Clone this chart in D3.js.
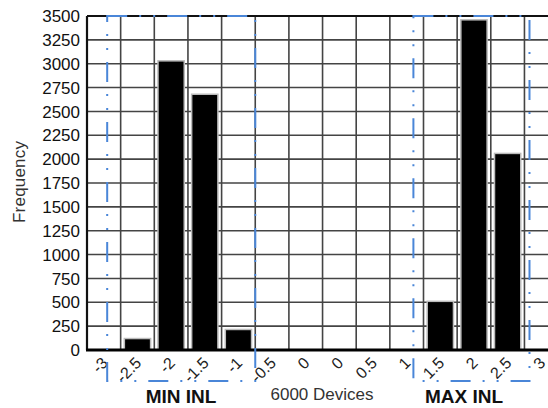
<!DOCTYPE html>
<html>
<head>
<meta charset="utf-8">
<script src="https://cdn.jsdelivr.net/npm/d3@7"></script>
<style>
  body { margin: 0; background: #fff; }
  svg { display: block; font-family: "Liberation Sans", Arial, sans-serif; }
</style>
</head>
<body>
<svg width="548" height="408"></svg>
<script>
// histogram bins (x labels) and counts
const bins = ["-3", "-2.5", "-2", "-1.5", "-1", "-0.5", "0", "0", "0.5", "1", "1.5", "2", "2.5", "3"];
const counts = [0, 120, 3030, 2680, 215, 0, 0, 0, 0, 0, 510, 3460, 2060, 0];
const yTicks = d3.range(0, 3501, 250);
// dash-dot boxes, in bin units (start, end)
const boxes = [
    {name: "MIN INL", from: 0.6, to: 5},
    {name: "MAX INL", from: 9.7, to: 13.15}
];

const svg = d3.select("svg");
const L = 87, T = 16, B = 350, step = 33.65;
const R = L + bins.length * step;

const x = d3.scaleBand()
    .domain(d3.range(bins.length))
    .range([L, R])
    .padding(0);
const xu = d3.scaleLinear().domain([0, bins.length]).range([L, R]);
const y = d3.scaleLinear().domain([0, 3500]).range([B, T]);

// grid
svg.append("g")
    .selectAll("line.h")
    .data(yTicks)
    .join("line")
    .attr("x1", L).attr("x2", R)
    .attr("y1", d => y(d)).attr("y2", d => y(d))
    .attr("stroke", "#444").attr("stroke-width", 1.6);

svg.append("g")
    .selectAll("line.v")
    .data(d3.range(1, bins.length))
    .join("line")
    .attr("x1", d => xu(d)).attr("x2", d => xu(d))
    .attr("y1", T).attr("y2", B)
    .attr("stroke", "#444").attr("stroke-width", 1.6);

// bars
const bw = x.bandwidth() * 0.78;
svg.append("g")
    .selectAll("rect")
    .data(counts)
    .join("rect")
    .attr("x", (d, i) => x(i) + (x.bandwidth() - bw) / 2)
    .attr("y", d => y(d))
    .attr("width", bw)
    .attr("height", d => B - y(d))
    .attr("fill", d => d > 0 ? "#000" : "none")
    .attr("stroke", d => d > 0 ? "#bbb" : "none")
    .attr("stroke-width", 1.5);

// frame
svg.append("line").attr("x1", L).attr("x2", R).attr("y1", T).attr("y2", T)
    .attr("stroke", "#111").attr("stroke-width", 2.2);
svg.append("line").attr("x1", L).attr("x2", L).attr("y1", T).attr("y2", B)
    .attr("stroke", "#111").attr("stroke-width", 2.2);
svg.append("line").attr("x1", L - 1).attr("x2", R).attr("y1", B).attr("y2", B)
    .attr("stroke", "#000").attr("stroke-width", 3);

// y axis labels
svg.append("g")
    .selectAll("text")
    .data(yTicks)
    .join("text")
    .attr("x", 80)
    .attr("y", d => y(d))
    .attr("dy", "0.36em")
    .attr("text-anchor", "end")
    .attr("font-size", 17)
    .attr("fill", "#111")
    .text(d => d);

svg.append("text")
    .attr("transform", "translate(25,182) rotate(-90)")
    .attr("text-anchor", "middle")
    .attr("font-size", 17)
    .attr("textLength", 82)
    .attr("fill", "#333")
    .text("Frequency");

// x tick labels (rotated)
svg.append("g")
    .selectAll("text")
    .data(bins)
    .join("text")
    .attr("transform", (d, i) => `translate(${x(i) + x.bandwidth() / 2 - 3},${356}) rotate(-45)`)
    .attr("text-anchor", "end")
    .attr("dy", "0.7em")
    .attr("font-size", 16)
    .attr("fill", "#222")
    .text(d => d);

// dash-dot boxes
svg.append("g")
    .selectAll("rect")
    .data(boxes)
    .join("rect")
    .attr("x", d => xu(d.from))
    .attr("y", T)
    .attr("width", d => xu(d.to) - xu(d.from))
    .attr("height", 381 - T)
    .attr("fill", "none")
    .attr("stroke", "#4a86d8")
    .attr("stroke-width", 2)
    .attr("stroke-dasharray", "20,12,2,12,2,12");

// box captions
svg.append("g")
    .selectAll("text")
    .data(boxes)
    .join("text")
    .attr("x", d => d.name === "MIN INL" ? 181 : 464)
    .attr("y", 403)
    .attr("text-anchor", "middle")
    .attr("font-size", 19)
    .attr("font-weight", "bold")
    .attr("fill", "#111")
    .text(d => d.name);

svg.append("text")
    .attr("x", 322)
    .attr("y", 400)
    .attr("text-anchor", "middle")
    .attr("font-size", 17)
    .attr("fill", "#333")
    .text("6000 Devices");
</script>
</body>
</html>
